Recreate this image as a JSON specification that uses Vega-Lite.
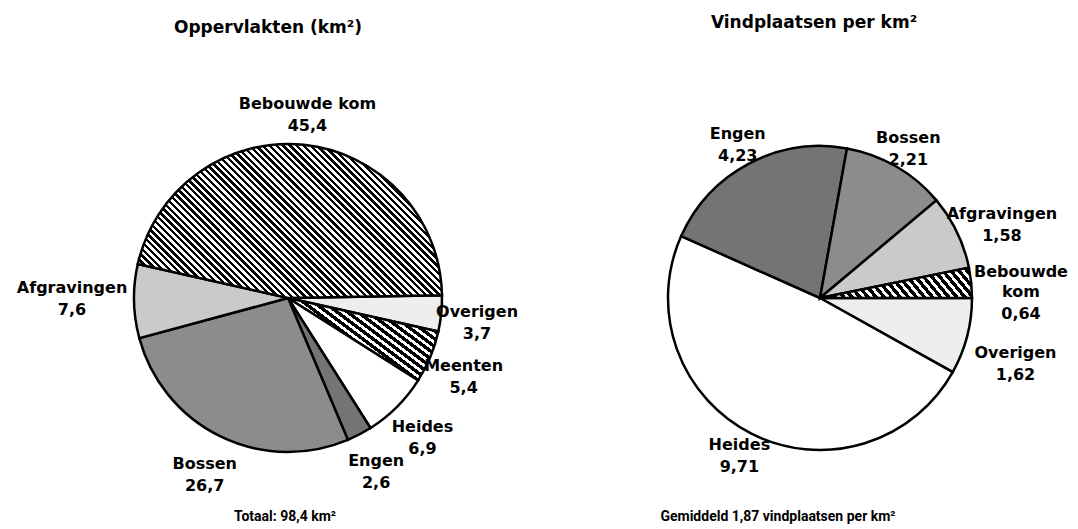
{
  "$schema": "https://vega.github.io/schema/vega-lite/v6.json",
  "padding": 5,
  "spacing": 20,
  "config": {
    "view": {"stroke": null},
    "font": "DejaVu Sans",
    "locale": {"number": {"decimal": ",", "thousands": ".", "grouping": [3], "currency": ["€", ""]}},
    "text": {"font": "DejaVu Sans", "fontSize": 16, "fontWeight": "bold"}
  },
  "hconcat": [
    {
      "spacing": 12,
      "bounds": "flush",
      "vconcat": [
        {
          "width": 566,
          "height": 81,
          "data": {"values": [{"kop": "Oppervlakten (km²)"}]},
          "mark": {"type": "text", "fontSize": 17, "baseline": "middle", "dx": -20, "dy": -18},
          "encoding": {"text": {"field": "kop", "type": "nominal"}, "color": {"value": "#000000"}}
        },
        {
          "width": 566,
          "height": 400,
          "data": {"values": [
            {"cat": "Overigen", "km2": 3.7},
            {"cat": "Meenten", "km2": 5.4},
            {"cat": "Heides", "km2": 6.9},
            {"cat": "Engen", "km2": 2.6},
            {"cat": "Bossen", "km2": 26.7},
            {"cat": "Afgravingen", "km2": 7.6},
            {"cat": "Bebouwde kom", "km2": 45.4}
          ]},
          "transform": [{"window": [{"op": "row_number", "as": "rij"}]}],
          "encoding": {
            "theta": {"field": "km2", "type": "quantitative", "stack": true, "scale": {"range": [1.5533, 7.8365]}},
            "order": {"field": "rij", "type": "quantitative"}
          },
          "layer": [
            {
              "mark": {"type": "arc", "radius": 154, "stroke": "#000000", "strokeWidth": 2.5},
              "encoding": {
                "color": {
                  "condition": [
                    {"test": "datum.cat === 'Bebouwde kom'", "value": {"gradient": "linear", "x1": 0.2985, "y1": 1.3857, "x2": 1.1867, "y2": 0.9361, "stops": [
{"offset":0,"color":"#000"},{"offset":0.01,"color":"#000"},{"offset":0.01,"color":"#fff"},{"offset":0.02,"color":"#fff"},
{"offset":0.02,"color":"#000"},{"offset":0.03,"color":"#000"},{"offset":0.03,"color":"#fff"},{"offset":0.04,"color":"#fff"},
{"offset":0.04,"color":"#000"},{"offset":0.05,"color":"#000"},{"offset":0.05,"color":"#fff"},{"offset":0.06,"color":"#fff"},
{"offset":0.06,"color":"#000"},{"offset":0.07,"color":"#000"},{"offset":0.07,"color":"#fff"},{"offset":0.08,"color":"#fff"},
{"offset":0.08,"color":"#000"},{"offset":0.09,"color":"#000"},{"offset":0.09,"color":"#fff"},{"offset":0.1,"color":"#fff"},
{"offset":0.1,"color":"#000"},{"offset":0.11,"color":"#000"},{"offset":0.11,"color":"#fff"},{"offset":0.12,"color":"#fff"},
{"offset":0.12,"color":"#000"},{"offset":0.13,"color":"#000"},{"offset":0.13,"color":"#fff"},{"offset":0.14,"color":"#fff"},
{"offset":0.14,"color":"#000"},{"offset":0.15,"color":"#000"},{"offset":0.15,"color":"#fff"},{"offset":0.16,"color":"#fff"},
{"offset":0.16,"color":"#000"},{"offset":0.17,"color":"#000"},{"offset":0.17,"color":"#fff"},{"offset":0.18,"color":"#fff"},
{"offset":0.18,"color":"#000"},{"offset":0.19,"color":"#000"},{"offset":0.19,"color":"#fff"},{"offset":0.2,"color":"#fff"},
{"offset":0.2,"color":"#000"},{"offset":0.21,"color":"#000"},{"offset":0.21,"color":"#fff"},{"offset":0.22,"color":"#fff"},
{"offset":0.22,"color":"#000"},{"offset":0.23,"color":"#000"},{"offset":0.23,"color":"#fff"},{"offset":0.24,"color":"#fff"},
{"offset":0.24,"color":"#000"},{"offset":0.25,"color":"#000"},{"offset":0.25,"color":"#fff"},{"offset":0.26,"color":"#fff"},
{"offset":0.26,"color":"#000"},{"offset":0.27,"color":"#000"},{"offset":0.27,"color":"#fff"},{"offset":0.28,"color":"#fff"},
{"offset":0.28,"color":"#000"},{"offset":0.29,"color":"#000"},{"offset":0.29,"color":"#fff"},{"offset":0.3,"color":"#fff"},
{"offset":0.3,"color":"#000"},{"offset":0.31,"color":"#000"},{"offset":0.31,"color":"#fff"},{"offset":0.32,"color":"#fff"},
{"offset":0.32,"color":"#000"},{"offset":0.33,"color":"#000"},{"offset":0.33,"color":"#fff"},{"offset":0.34,"color":"#fff"},
{"offset":0.34,"color":"#000"},{"offset":0.35,"color":"#000"},{"offset":0.35,"color":"#fff"},{"offset":0.36,"color":"#fff"},
{"offset":0.36,"color":"#000"},{"offset":0.37,"color":"#000"},{"offset":0.37,"color":"#fff"},{"offset":0.38,"color":"#fff"},
{"offset":0.38,"color":"#000"},{"offset":0.39,"color":"#000"},{"offset":0.39,"color":"#fff"},{"offset":0.4,"color":"#fff"},
{"offset":0.4,"color":"#000"},{"offset":0.41,"color":"#000"},{"offset":0.41,"color":"#fff"},{"offset":0.42,"color":"#fff"},
{"offset":0.42,"color":"#000"},{"offset":0.43,"color":"#000"},{"offset":0.43,"color":"#fff"},{"offset":0.44,"color":"#fff"},
{"offset":0.44,"color":"#000"},{"offset":0.45,"color":"#000"},{"offset":0.45,"color":"#fff"},{"offset":0.46,"color":"#fff"},
{"offset":0.46,"color":"#000"},{"offset":0.47,"color":"#000"},{"offset":0.47,"color":"#fff"},{"offset":0.48,"color":"#fff"},
{"offset":0.48,"color":"#000"},{"offset":0.49,"color":"#000"},{"offset":0.49,"color":"#fff"},{"offset":0.5,"color":"#fff"},
{"offset":0.5,"color":"#000"},{"offset":0.51,"color":"#000"},{"offset":0.51,"color":"#fff"},{"offset":0.52,"color":"#fff"},
{"offset":0.52,"color":"#000"},{"offset":0.53,"color":"#000"},{"offset":0.53,"color":"#fff"},{"offset":0.54,"color":"#fff"},
{"offset":0.54,"color":"#000"},{"offset":0.55,"color":"#000"},{"offset":0.55,"color":"#fff"},{"offset":0.56,"color":"#fff"},
{"offset":0.56,"color":"#000"},{"offset":0.57,"color":"#000"},{"offset":0.57,"color":"#fff"},{"offset":0.58,"color":"#fff"},
{"offset":0.58,"color":"#000"},{"offset":0.59,"color":"#000"},{"offset":0.59,"color":"#fff"},{"offset":0.6,"color":"#fff"},
{"offset":0.6,"color":"#000"},{"offset":0.61,"color":"#000"},{"offset":0.61,"color":"#fff"},{"offset":0.62,"color":"#fff"},
{"offset":0.62,"color":"#000"},{"offset":0.63,"color":"#000"},{"offset":0.63,"color":"#fff"},{"offset":0.64,"color":"#fff"},
{"offset":0.64,"color":"#000"},{"offset":0.65,"color":"#000"},{"offset":0.65,"color":"#fff"},{"offset":0.66,"color":"#fff"},
{"offset":0.66,"color":"#000"},{"offset":0.67,"color":"#000"},{"offset":0.67,"color":"#fff"},{"offset":0.68,"color":"#fff"},
{"offset":0.68,"color":"#000"},{"offset":0.69,"color":"#000"},{"offset":0.69,"color":"#fff"},{"offset":0.7,"color":"#fff"},
{"offset":0.7,"color":"#000"},{"offset":0.71,"color":"#000"},{"offset":0.71,"color":"#fff"},{"offset":0.72,"color":"#fff"},
{"offset":0.72,"color":"#000"},{"offset":0.73,"color":"#000"},{"offset":0.73,"color":"#fff"},{"offset":0.74,"color":"#fff"},
{"offset":0.74,"color":"#000"},{"offset":0.75,"color":"#000"},{"offset":0.75,"color":"#fff"},{"offset":0.76,"color":"#fff"},
{"offset":0.76,"color":"#000"},{"offset":0.77,"color":"#000"},{"offset":0.77,"color":"#fff"},{"offset":0.78,"color":"#fff"},
{"offset":0.78,"color":"#000"},{"offset":0.79,"color":"#000"},{"offset":0.79,"color":"#fff"},{"offset":0.8,"color":"#fff"},
{"offset":0.8,"color":"#000"},{"offset":0.81,"color":"#000"},{"offset":0.81,"color":"#fff"},{"offset":0.82,"color":"#fff"},
{"offset":0.82,"color":"#000"},{"offset":0.83,"color":"#000"},{"offset":0.83,"color":"#fff"},{"offset":0.84,"color":"#fff"},
{"offset":0.84,"color":"#000"},{"offset":0.85,"color":"#000"},{"offset":0.85,"color":"#fff"},{"offset":0.86,"color":"#fff"},
{"offset":0.86,"color":"#000"},{"offset":0.87,"color":"#000"},{"offset":0.87,"color":"#fff"},{"offset":0.88,"color":"#fff"},
{"offset":0.88,"color":"#000"},{"offset":0.89,"color":"#000"},{"offset":0.89,"color":"#fff"},{"offset":0.9,"color":"#fff"},
{"offset":0.9,"color":"#000"},{"offset":0.91,"color":"#000"},{"offset":0.91,"color":"#fff"},{"offset":0.92,"color":"#fff"},
{"offset":0.92,"color":"#000"},{"offset":0.93,"color":"#000"},{"offset":0.93,"color":"#fff"},{"offset":0.94,"color":"#fff"},
{"offset":0.94,"color":"#000"},{"offset":0.95,"color":"#000"},{"offset":0.95,"color":"#fff"},{"offset":0.96,"color":"#fff"},
{"offset":0.96,"color":"#000"},{"offset":0.97,"color":"#000"},{"offset":0.97,"color":"#fff"},{"offset":0.98,"color":"#fff"},
{"offset":0.98,"color":"#000"},{"offset":0.99,"color":"#000"},{"offset":0.99,"color":"#fff"},{"offset":1,"color":"#fff"}
                    ]}},
                    {"test": "datum.cat === 'Meenten'", "value": {"gradient": "linear", "x1": -0.008, "y1": 0.0194, "x2": 0.4834, "y2": -0.3398, "stops": [
{"offset":0,"color":"#000"},{"offset":0.05,"color":"#000"},{"offset":0.05,"color":"#fff"},{"offset":0.0909,"color":"#fff"},
{"offset":0.0909,"color":"#000"},{"offset":0.1409,"color":"#000"},{"offset":0.1409,"color":"#fff"},{"offset":0.1818,"color":"#fff"},
{"offset":0.1818,"color":"#000"},{"offset":0.2318,"color":"#000"},{"offset":0.2318,"color":"#fff"},{"offset":0.2727,"color":"#fff"},
{"offset":0.2727,"color":"#000"},{"offset":0.3227,"color":"#000"},{"offset":0.3227,"color":"#fff"},{"offset":0.3636,"color":"#fff"},
{"offset":0.3636,"color":"#000"},{"offset":0.4136,"color":"#000"},{"offset":0.4136,"color":"#fff"},{"offset":0.4545,"color":"#fff"},
{"offset":0.4545,"color":"#000"},{"offset":0.5045,"color":"#000"},{"offset":0.5045,"color":"#fff"},{"offset":0.5455,"color":"#fff"},
{"offset":0.5455,"color":"#000"},{"offset":0.5955,"color":"#000"},{"offset":0.5955,"color":"#fff"},{"offset":0.6364,"color":"#fff"},
{"offset":0.6364,"color":"#000"},{"offset":0.6864,"color":"#000"},{"offset":0.6864,"color":"#fff"},{"offset":0.7273,"color":"#fff"},
{"offset":0.7273,"color":"#000"},{"offset":0.7773,"color":"#000"},{"offset":0.7773,"color":"#fff"},{"offset":0.8182,"color":"#fff"},
{"offset":0.8182,"color":"#000"},{"offset":0.8682,"color":"#000"},{"offset":0.8682,"color":"#fff"},{"offset":0.9091,"color":"#fff"},
{"offset":0.9091,"color":"#000"},{"offset":0.9591,"color":"#000"},{"offset":0.9591,"color":"#fff"},{"offset":1,"color":"#fff"}
                    ]}}
                  ],
                  "field": "cat", "type": "nominal", "legend": null,
                  "scale": {"domain": ["Overigen", "Meenten", "Heides", "Engen", "Bossen", "Afgravingen", "Bebouwde kom"], "range": ["#eeeeee", "#6e6e6e", "#ffffff", "#747474", "#8c8c8c", "#cacaca", "#878787"]}
                }
              }
            },
            {
              "mark": {"type": "text", "radius": 190, "baseline": "bottom", "dy": 3},
              "encoding": {
                "color": {"value": "#000000"},
                "text": {"condition": {"test": "datum.cat !== 'Afgravingen'", "field": "cat", "type": "nominal"}, "value": ""}
              }
            },
            {
              "mark": {"type": "text", "radius": 190, "baseline": "top", "dy": 9},
              "encoding": {
                "color": {"value": "#000000"},
                "text": {"condition": {"test": "datum.cat !== 'Afgravingen'", "field": "km2", "type": "quantitative", "format": ".1f"}, "value": ""}
              }
            },
            {
              "mark": {"type": "text", "radius": 216, "baseline": "bottom", "dy": -6},
              "encoding": {
                "color": {"value": "#000000"},
                "text": {"condition": {"test": "datum.cat === 'Afgravingen'", "field": "cat", "type": "nominal"}, "value": ""}
              }
            },
            {
              "mark": {"type": "text", "radius": 216, "baseline": "top", "dy": 0},
              "encoding": {
                "color": {"value": "#000000"},
                "text": {"condition": {"test": "datum.cat === 'Afgravingen'", "field": "km2", "type": "quantitative", "format": ".1f"}, "value": ""}
              }
            }
          ]
        },
        {
          "width": 566,
          "height": 14,
          "data": {"values": [{"note": "Totaal: 98,4 km²"}]},
          "mark": {"type": "text", "font": "Roboto", "fontSize": 14, "fontWeight": "bold", "baseline": "middle", "dx": -3},
          "encoding": {"text": {"field": "note", "type": "nominal"}, "color": {"value": "#000000"}}
        }
      ]
    },
    {
      "spacing": 12,
      "bounds": "flush",
      "vconcat": [
        {
          "width": 458,
          "height": 81,
          "data": {"values": [{"kop": "Vindplaatsen per km²"}]},
          "mark": {"type": "text", "fontSize": 17, "baseline": "middle", "dx": -6, "dy": -23},
          "encoding": {"text": {"field": "kop", "type": "nominal"}, "color": {"value": "#000000"}}
        },
        {
          "width": 458,
          "height": 400,
          "data": {"values": [
            {"cat": "Overigen", "per_km2": 1.62},
            {"cat": "Heides", "per_km2": 9.71},
            {"cat": "Engen", "per_km2": 4.23},
            {"cat": "Bossen", "per_km2": 2.21},
            {"cat": "Afgravingen", "per_km2": 1.58},
            {"cat": "Bebouwde kom", "per_km2": 0.64}
          ]},
          "transform": [{"window": [{"op": "row_number", "as": "rij"}]}],
          "encoding": {
            "theta": {"field": "per_km2", "type": "quantitative", "stack": true, "scale": {"range": [1.5708, 7.854]}},
            "order": {"field": "rij", "type": "quantitative"}
          },
          "layer": [
            {
              "mark": {"type": "arc", "radius": 152, "stroke": "#000000", "strokeWidth": 2.5},
              "encoding": {
                "color": {
                  "condition": [
                    {"test": "datum.cat === 'Bebouwde kom'", "value": {"gradient": "linear", "x1": -0.0076, "y1": 1.0316, "x2": 1.129, "y2": 0.8425, "stops": [
{"offset":0,"color":"#000"},{"offset":0.025,"color":"#000"},{"offset":0.025,"color":"#fff"},{"offset":0.0455,"color":"#fff"},
{"offset":0.0455,"color":"#000"},{"offset":0.0705,"color":"#000"},{"offset":0.0705,"color":"#fff"},{"offset":0.0909,"color":"#fff"},
{"offset":0.0909,"color":"#000"},{"offset":0.1159,"color":"#000"},{"offset":0.1159,"color":"#fff"},{"offset":0.1364,"color":"#fff"},
{"offset":0.1364,"color":"#000"},{"offset":0.1614,"color":"#000"},{"offset":0.1614,"color":"#fff"},{"offset":0.1818,"color":"#fff"},
{"offset":0.1818,"color":"#000"},{"offset":0.2068,"color":"#000"},{"offset":0.2068,"color":"#fff"},{"offset":0.2273,"color":"#fff"},
{"offset":0.2273,"color":"#000"},{"offset":0.2523,"color":"#000"},{"offset":0.2523,"color":"#fff"},{"offset":0.2727,"color":"#fff"},
{"offset":0.2727,"color":"#000"},{"offset":0.2977,"color":"#000"},{"offset":0.2977,"color":"#fff"},{"offset":0.3182,"color":"#fff"},
{"offset":0.3182,"color":"#000"},{"offset":0.3432,"color":"#000"},{"offset":0.3432,"color":"#fff"},{"offset":0.3636,"color":"#fff"},
{"offset":0.3636,"color":"#000"},{"offset":0.3886,"color":"#000"},{"offset":0.3886,"color":"#fff"},{"offset":0.4091,"color":"#fff"},
{"offset":0.4091,"color":"#000"},{"offset":0.4341,"color":"#000"},{"offset":0.4341,"color":"#fff"},{"offset":0.4545,"color":"#fff"},
{"offset":0.4545,"color":"#000"},{"offset":0.4795,"color":"#000"},{"offset":0.4795,"color":"#fff"},{"offset":0.5,"color":"#fff"},
{"offset":0.5,"color":"#000"},{"offset":0.525,"color":"#000"},{"offset":0.525,"color":"#fff"},{"offset":0.5455,"color":"#fff"},
{"offset":0.5455,"color":"#000"},{"offset":0.5705,"color":"#000"},{"offset":0.5705,"color":"#fff"},{"offset":0.5909,"color":"#fff"},
{"offset":0.5909,"color":"#000"},{"offset":0.6159,"color":"#000"},{"offset":0.6159,"color":"#fff"},{"offset":0.6364,"color":"#fff"},
{"offset":0.6364,"color":"#000"},{"offset":0.6614,"color":"#000"},{"offset":0.6614,"color":"#fff"},{"offset":0.6818,"color":"#fff"},
{"offset":0.6818,"color":"#000"},{"offset":0.7068,"color":"#000"},{"offset":0.7068,"color":"#fff"},{"offset":0.7273,"color":"#fff"},
{"offset":0.7273,"color":"#000"},{"offset":0.7523,"color":"#000"},{"offset":0.7523,"color":"#fff"},{"offset":0.7727,"color":"#fff"},
{"offset":0.7727,"color":"#000"},{"offset":0.7977,"color":"#000"},{"offset":0.7977,"color":"#fff"},{"offset":0.8182,"color":"#fff"},
{"offset":0.8182,"color":"#000"},{"offset":0.8432,"color":"#000"},{"offset":0.8432,"color":"#fff"},{"offset":0.8636,"color":"#fff"},
{"offset":0.8636,"color":"#000"},{"offset":0.8886,"color":"#000"},{"offset":0.8886,"color":"#fff"},{"offset":0.9091,"color":"#fff"},
{"offset":0.9091,"color":"#000"},{"offset":0.9341,"color":"#000"},{"offset":0.9341,"color":"#fff"},{"offset":0.9545,"color":"#fff"},
{"offset":0.9545,"color":"#000"},{"offset":0.9795,"color":"#000"},{"offset":0.9795,"color":"#fff"},{"offset":1,"color":"#fff"}
                    ]}}
                  ],
                  "field": "cat", "type": "nominal", "legend": null,
                  "scale": {"domain": ["Overigen", "Meenten", "Heides", "Engen", "Bossen", "Afgravingen", "Bebouwde kom"], "range": ["#eeeeee", "#6e6e6e", "#ffffff", "#747474", "#8c8c8c", "#cacaca", "#878787"]}
                }
              }
            },
            {
              "mark": {"type": "text", "radius": 176, "baseline": "bottom"},
              "encoding": {
                "color": {"value": "#000000"},
                "text": {"condition": {"test": "datum.cat === 'Engen' || datum.cat === 'Bossen'", "field": "cat", "type": "nominal"}, "value": ""}
              }
            },
            {
              "mark": {"type": "text", "radius": 176, "baseline": "top", "dy": 6},
              "encoding": {
                "color": {"value": "#000000"},
                "text": {"condition": {"test": "datum.cat === 'Engen' || datum.cat === 'Bossen'", "field": "per_km2", "type": "quantitative", "format": ".2f"}, "value": ""}
              }
            },
            {
              "mark": {"type": "text", "radius": 202, "baseline": "bottom", "dy": 12},
              "encoding": {
                "color": {"value": "#000000"},
                "text": {"condition": {"test": "datum.cat === 'Afgravingen' || datum.cat === 'Overigen'", "field": "cat", "type": "nominal"}, "value": ""}
              }
            },
            {
              "mark": {"type": "text", "radius": 202, "baseline": "top", "dy": 18},
              "encoding": {
                "color": {"value": "#000000"},
                "text": {"condition": {"test": "datum.cat === 'Afgravingen' || datum.cat === 'Overigen'", "field": "per_km2", "type": "quantitative", "format": ".2f"}, "value": ""}
              }
            },
            {
              "mark": {"type": "text", "radius": 180, "baseline": "bottom", "dy": -6},
              "encoding": {
                "color": {"value": "#000000"},
                "text": {"condition": {"test": "datum.cat === 'Heides'", "field": "cat", "type": "nominal"}, "value": ""}
              }
            },
            {
              "mark": {"type": "text", "radius": 180, "baseline": "top", "dy": 0},
              "encoding": {
                "color": {"value": "#000000"},
                "text": {"condition": {"test": "datum.cat === 'Heides'", "field": "per_km2", "type": "quantitative", "format": ".2f"}, "value": ""}
              }
            },
            {
              "mark": {"type": "text", "radius": 202, "baseline": "middle", "lineBreak": " ", "lineHeight": 20, "dy": -6},
              "encoding": {
                "color": {"value": "#000000"},
                "text": {"condition": {"test": "datum.cat === 'Bebouwde kom'", "field": "cat", "type": "nominal"}, "value": ""}
              }
            },
            {
              "mark": {"type": "text", "radius": 202, "baseline": "top", "dy": 28},
              "encoding": {
                "color": {"value": "#000000"},
                "text": {"condition": {"test": "datum.cat === 'Bebouwde kom'", "field": "per_km2", "type": "quantitative", "format": ".2f"}, "value": ""}
              }
            }
          ]
        },
        {
          "width": 458,
          "height": 14,
          "data": {"values": [{"note": "Gemiddeld 1,87 vindplaatsen per km²"}]},
          "mark": {"type": "text", "font": "Roboto", "fontSize": 14, "fontWeight": "bold", "baseline": "middle", "dx": -42},
          "encoding": {"text": {"field": "note", "type": "nominal"}, "color": {"value": "#000000"}}
        }
      ]
    }
  ]
}
